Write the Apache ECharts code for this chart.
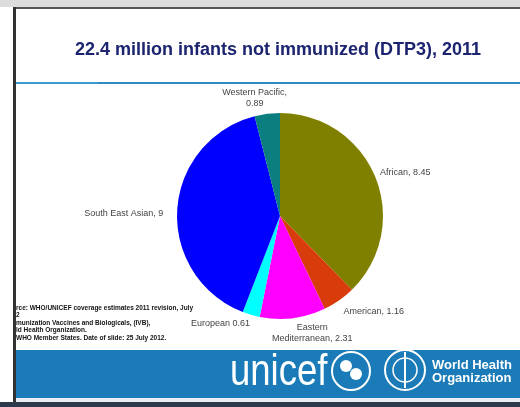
<!DOCTYPE html>
<html>
<head>
<meta charset="utf-8">
<script src="https://cdn.jsdelivr.net/npm/echarts@6/dist/echarts.min.js"></script>
<style>
  html, body { margin: 0; padding: 0; background: #fff; }
  #chart { width: 520px; height: 407px; }
</style>
</head>
<body>
<div id="chart"></div>
<script>
// regions, clockwise from 12 o'clock
var regions = ['African', 'American', 'Eastern\nMediterranean', 'European', 'South East Asian', 'Western Pacific,\n']
var infants = [8.45, 1.16, 2.31, 0.61, 9, 0.89]   // millions not immunized
var colors = ['#808000', '#d83c0a', '#ff00ff', '#00ffff', '#0000ff', '#0b7f80']
var seps = [', ', ', ', ', ', ' ', ', ', '']

var footnote = [
  'rce: WHO/UNICEF coverage estimates 2011 revision, July',
  '2',
  'munization Vaccines and Biologicals, (IVB),',
  'ld Health Organization.',
  'WHO Member States. Date of slide: 25 July 2012.'
]

// small nudges of the outside labels, like in the slide
var labelShift = [
  { dx: -4, dy: -3 },
  { dx: -3, dy: 8 },
  { dx: 14, dy: 11, align: 'center' },
  { dx: 5, dy: 5 },
  { dx: -5, dy: 4 },
  { dx: -7, dy: -12, align: 'center' }
]

var pieData = regions.map(function (r, i) {
  return { name: r, value: infants[i], itemStyle: { color: colors[i] } }
})

var e = echarts.init(document.getElementById('chart'))

var option = {
  animation: false,
  title: {
    text: '22.4 million infants not immunized (DTP3), 2011',
    left: 70,
    top: 36,
    textStyle: {
      color: '#1c2470',
      fontSize: 18,
      fontWeight: 'bold',
      fontFamily: 'Liberation Sans, Arial, sans-serif'
    }
  },
  graphic: [
    // photo frame
    { type: 'rect', shape: { x: 0, y: 0, width: 520, height: 7 }, style: { fill: '#dcdcdc' } },
    { type: 'rect', shape: { x: 13, y: 7, width: 507, height: 2 }, style: { fill: '#555' } },
    { type: 'rect', shape: { x: 13, y: 7, width: 3, height: 395 }, style: { fill: '#333' } },
    // header rule
    { type: 'rect', shape: { x: 16, y: 82, width: 82, height: 2 }, style: { fill: '#3a9bd0' } },
    { type: 'rect', shape: { x: 98, y: 82, width: 422, height: 2 }, style: { fill: '#2e8ac2' } },
    // footnote
    {
      type: 'text', left: 16, top: 304,
      style: { text: footnote.join('\n'), fill: '#111', fontSize: 6.5, lineHeight: 7.6,
        fontWeight: 'bold', fontFamily: 'Liberation Sans, Arial, sans-serif' }
    },
    // bottom banner
    { type: 'rect', shape: { x: 16, y: 350, width: 504, height: 48 }, style: { fill: '#1b7bb8' } },
    { type: 'rect', shape: { x: 16, y: 398, width: 504, height: 4 }, style: { fill: '#e8eef3' } },
    { type: 'rect', shape: { x: 0, y: 402, width: 520, height: 5 }, style: { fill: '#2c3a4c' } },
    {
      type: 'text', x: 230, y: 351, scaleX: 0.83,
      style: { text: 'unicef', fill: '#fff', fontSize: 44, fontFamily: 'Liberation Sans, Arial, sans-serif' }
    },
    // unicef emblem
    { type: 'circle', shape: { cx: 351, cy: 371, r: 19 }, style: { fill: 'none', stroke: '#fff', lineWidth: 2 } },
    { type: 'circle', shape: { cx: 346, cy: 366, r: 6 }, style: { fill: '#fff' } },
    { type: 'circle', shape: { cx: 356, cy: 374, r: 6 }, style: { fill: '#fff' } },
    // WHO emblem
    { type: 'circle', shape: { cx: 405, cy: 370, r: 20 }, style: { fill: 'none', stroke: '#fff', lineWidth: 2 } },
    { type: 'circle', shape: { cx: 405, cy: 370, r: 12 }, style: { fill: 'none', stroke: '#fff', lineWidth: 1.5 } },
    { type: 'line', shape: { x1: 405, y1: 352, x2: 405, y2: 388 }, style: { stroke: '#fff', lineWidth: 2 } },
    {
      type: 'text', left: 432, top: 359,
      style: { text: 'World Health\nOrganization', fill: '#fff', fontSize: 13, lineHeight: 13,
        fontWeight: 'bold', fontFamily: 'Liberation Sans Narrow, Liberation Sans, Arial, sans-serif' }
    }
  ],
  series: [
    {
      type: 'pie',
      center: [280, 216],
      radius: 103,
      startAngle: 90,
      clockwise: true,
      data: pieData,
      label: {
        show: true,
        position: 'outside',
        color: '#444',
        fontSize: 9,
        lineHeight: 11,
        fontFamily: 'Liberation Sans, Arial, sans-serif',
        formatter: function (p) {
          return p.name + seps[p.dataIndex] + p.value
        }
      },
      labelLine: { show: false, length: 4, length2: 0 },
      labelLayout: function (p) {
        return labelShift[p.dataIndex]
      },
      emphasis: { disabled: true }
    }
  ]
}

e.setOption(option)
</script>
</body>
</html>
